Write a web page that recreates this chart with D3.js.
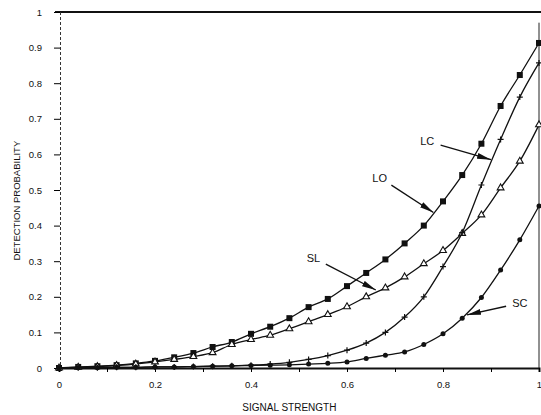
<!DOCTYPE html>
<html>
<head>
<meta charset="utf-8">
<script src="https://cdn.jsdelivr.net/npm/d3@7"></script>
<style>
  body { margin: 0; background: #fff; }
  text { font-family: "Liberation Sans", Arial, sans-serif; fill: #111; }
</style>
</head>
<body>
<svg id="plot" width="541" height="415"></svg>
<script>
// signal strength samples (every 0.04)
const signal = d3.range(26).map(i => +(i * 0.04).toFixed(2));

// detection probability
const lo = [0, 0.003, 0.005, 0.008, 0.013, 0.02, 0.03, 0.042, 0.059, 0.073, 0.096, 0.116, 0.14,
    0.171, 0.194, 0.23, 0.267, 0.305, 0.35, 0.40, 0.468, 0.542, 0.63, 0.736, 0.823, 0.913];
const sl = [0, 0.002, 0.004, 0.007, 0.011, 0.017, 0.024, 0.032, 0.043, 0.066, 0.08, 0.092, 0.11,
    0.13, 0.15, 0.172, 0.2, 0.225, 0.256, 0.293, 0.33, 0.378, 0.43, 0.506, 0.581, 0.683];
const lc = [0, 0.001, 0.001, 0.002, 0.002, 0.003, 0.003, 0.004, 0.005, 0.006, 0.008, 0.011, 0.016,
    0.024, 0.035, 0.05, 0.07, 0.1, 0.143, 0.2, 0.285, 0.38, 0.514, 0.642, 0.761, 0.857];
const sc = [0, 0.001, 0.001, 0.002, 0.002, 0.003, 0.003, 0.004, 0.005, 0.006, 0.007, 0.008, 0.009,
    0.011, 0.013, 0.017, 0.027, 0.036, 0.045, 0.066, 0.096, 0.14, 0.198, 0.275, 0.36, 0.455];

const xTicks = [0, 0.2, 0.4, 0.6, 0.8, 1];
const yTicks = [0, 0.1, 0.2, 0.3, 0.4, 0.5, 0.6, 0.7, 0.8, 0.9, 1];

// label text, the point the arrow touches, and the label position (data units)
const labels = [
    { name: "LC", tip: [0.90, 0.585], at: [0.767, 0.637] },
    { name: "LO", tip: [0.78, 0.437], at: [0.668, 0.535] },
    { name: "SL", tip: [0.66, 0.219], at: [0.53, 0.31] },
    { name: "SC", tip: [0.85, 0.149], at: [0.96, 0.182] }
];

const margin = { left: 59, right: 2, top: 12, bottom: 47 };
const width = 541, height = 415;

const x = d3.scaleLinear().domain([0, 1]).range([margin.left, width - margin.right]);
const y = d3.scaleLinear().domain([0, 1]).range([height - margin.bottom, margin.top]);

const svg = d3.select("#plot");

// frame: thick top line, thin right line, thick bottom axis
svg.append("line")
    .attr("x1", 55).attr("x2", width).attr("y1", y(1)).attr("y2", y(1))
    .attr("stroke", "#111").attr("stroke-width", 2);
svg.append("line")
    .attr("x1", x(1)).attr("x2", x(1)).attr("y1", y(0.97)).attr("y2", y(0))
    .attr("stroke", "#222").attr("stroke-width", 1);

// x axis
let xAxis = g => g
    .attr("transform", `translate(0,${y(0)})`)
    .call(d3.axisBottom(x).tickValues(d3.range(11).map(i => i / 10))
        .tickFormat(d => xTicks.some(t => Math.abs(t - d) < 1e-9) ? d3.format("~g")(d) : "")
        .tickSize(4).tickPadding(9))
    .call(g => g.select(".domain").attr("stroke-width", 2).attr("stroke", "#111"))
    .call(g => g.selectAll("text").attr("font-size", 9.5).attr("fill", "#111"));

// y axis
let yAxis = g => g
    .attr("transform", `translate(${margin.left + 1},0)`)
    .call(d3.axisLeft(y).tickValues(yTicks).tickFormat(d3.format("~g")).tickSize(6).tickPadding(12))
    .call(g => g.select(".domain").attr("stroke-dasharray", "3,2").attr("stroke", "#333"))
    .call(g => g.selectAll("text").attr("font-size", 9.5).attr("fill", "#111"))
    .call(g => g.selectAll(".tick").filter(d => d === 1).select("text").attr("fill", "#999"));

svg.append("g").call(xAxis);
svg.append("g").call(yAxis);

// axis titles
svg.append("text")
    .attr("x", x(0.48)).attr("y", 411)
    .attr("text-anchor", "middle").attr("font-size", 10)
    .text("SIGNAL STRENGTH");
svg.append("text")
    .attr("transform", `translate(20,${y(0.47)}) rotate(-90)`)
    .attr("text-anchor", "middle").attr("font-size", 9.5)
    .text("DETECTION PROBABILITY");

// curves
const line = d3.line()
    .x((d, i) => x(signal[i]))
    .y(d => y(d))
    .curve(d3.curveMonotoneX);

const series = [
    { values: lo, marker: "square" },
    { values: sl, marker: "triangle" },
    { values: lc, marker: "plus" },
    { values: sc, marker: "circle" }
];

series.forEach(s => {
    svg.append("path")
        .datum(s.values)
        .attr("d", line)
        .attr("fill", "none")
        .attr("stroke", "#111")
        .attr("stroke-width", 1.3);

    const pts = svg.append("g")
        .selectAll("g")
        .data(s.values)
        .join("g")
        .attr("transform", (d, i) => `translate(${x(signal[i])},${y(d)})`);

    if (s.marker === "square") {
        pts.append("rect")
            .attr("x", -3).attr("y", -3).attr("width", 6).attr("height", 6)
            .attr("fill", "#111");
    } else if (s.marker === "triangle") {
        pts.append("path")
            .attr("d", d3.symbol(d3.symbolTriangle, 20))
            .attr("fill", "#fff").attr("stroke", "#111").attr("stroke-width", 1.1);
    } else if (s.marker === "plus") {
        pts.append("path")
            .attr("d", "M-3,0H3M0,-3V3")
            .attr("stroke", "#111").attr("stroke-width", 1.2);
    } else {
        pts.append("circle")
            .attr("r", 2.5)
            .attr("fill", "#111");
    }
});

// annotation arrows
svg.append("defs").append("marker")
    .attr("id", "head")
    .attr("viewBox", "0 0 14 6")
    .attr("refX", 14).attr("refY", 3)
    .attr("markerWidth", 14).attr("markerHeight", 6)
    .attr("markerUnits", "userSpaceOnUse")
    .attr("orient", "auto")
    .append("path")
    .attr("d", "M0,0L14,3L0,6Z")
    .attr("fill", "#111");

labels.forEach(l => {
    const lx = x(l.at[0]), ly = y(l.at[1]);
    const tx = x(l.tip[0]), ty = y(l.tip[1]);
    svg.append("text")
        .attr("x", lx).attr("y", ly + 4)
        .attr("text-anchor", "middle").attr("font-size", 11)
        .text(l.name);
    // start the arrow just outside the label
    const dx = tx - lx, dy = ty - ly, len = Math.hypot(dx, dy);
    const off = 14;
    svg.append("line")
        .attr("x1", lx + dx / len * off).attr("y1", ly + dy / len * off)
        .attr("x2", tx).attr("y2", ty)
        .attr("stroke", "#111").attr("stroke-width", 1.3)
        .attr("marker-end", "url(#head)");
});
</script>
</body>
</html>
